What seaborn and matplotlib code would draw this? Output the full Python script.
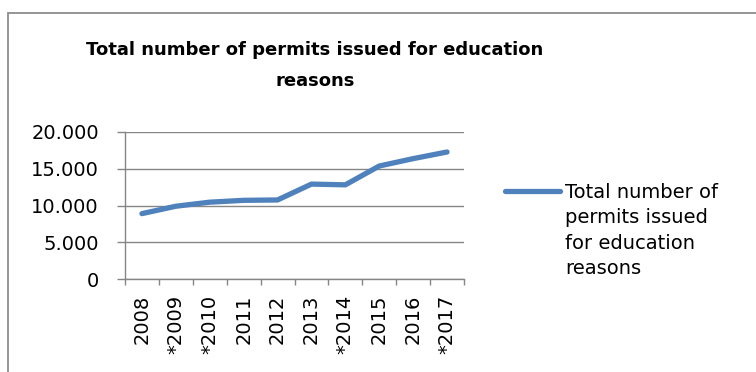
import matplotlib
matplotlib.use("Agg")
import matplotlib.pyplot as plt
from matplotlib.patches import Rectangle
from matplotlib.ticker import FuncFormatter, FixedLocator
import seaborn as sns
import pandas as pd

years = ["2008", "*2009", "*2010", "2011", "2012", "2013", "*2014", "2015", "2016", "*2017"]
permits = [8900, 9900, 10450, 10700, 10750, 12900, 12800, 15350, 16350, 17250]
legend_label = "Total number of\npermits issued\nfor education\nreasons"
title_text = "Total number of permits issued for education\nreasons"
y_ticks = [0, 5000, 10000, 15000, 20000]

sns.set_theme(style="white")
plt.rcParams["font.family"] = ["DejaVu Sans"]
plt.rcParams["text.color"] = "black"
plt.rcParams["xtick.labelcolor"] = "black"
plt.rcParams["ytick.labelcolor"] = "black"

df = pd.DataFrame({"pos": range(len(years)), "year": years, "permits": permits})

fig = plt.figure(figsize=(7.56, 3.72), dpi=100)
ax = fig.add_axes([125 / 756, 1 - 279.3 / 372, (464 - 125) / 756, (279.3 - 131.7) / 372])

sns.lineplot(data=df, x="pos", y="permits", ax=ax, color="#4F81BD",
             linewidth=3.8, label=legend_label, legend=False)

grid_c = "#868686"
ax.set_xlim(-0.5, len(years) - 0.5)
ax.set_ylim(0, 20000)
ax.set_yticks(y_ticks)
ax.yaxis.set_major_formatter(FuncFormatter(lambda v, _: f"{int(v):,}".replace(",", ".")))
ax.grid(axis="y", color=grid_c, linewidth=1.0)
ax.grid(axis="x", visible=False)

ax.set_xticks(df["pos"])
ax.set_xticklabels(years, rotation=90)
ax.xaxis.set_minor_locator(FixedLocator([i - 0.5 for i in range(len(years) + 1)]))
ax.tick_params(axis="x", which="major", length=0, pad=11, labelsize=14, labelcolor="black")
ax.tick_params(axis="x", which="minor", length=4.2, width=1.0, color=grid_c, direction="out", bottom=True)
ax.tick_params(axis="y", which="major", length=5.8, width=1.0, color=grid_c, direction="out",
               pad=13, labelsize=14, left=True, labelcolor="black")
ax.set_xlabel("")
ax.set_ylabel("")

for side in ["top", "right"]:
    ax.spines[side].set_visible(False)
for side in ["left", "bottom"]:
    ax.spines[side].set_color(grid_c)
    ax.spines[side].set_linewidth(1.0)

fig.text(315 / 756, 1 - 41 / 372, title_text, ha="center", va="top",
         fontsize=13, fontweight="bold", linespacing=1.95, color="black")

handles, labels = ax.get_legend_handles_labels()
leg = fig.legend(handles, labels, loc="upper left", bbox_to_anchor=(505 / 756, 1 - 183 / 372),
                 frameon=False, fontsize=14, handlelength=2.85, handletextpad=0.25,
                 handleheight=1.0, borderpad=0, borderaxespad=0, labelcolor="black")
leg.texts[0].set_linespacing(1.42)
for column in leg._legend_handle_box.get_children():
    for item in column.get_children():
        item.align = "top"

# chart area border
fig.patches.append(Rectangle((8 / 756, -0.1), 1.2, 1.1 - 12.5 / 372, transform=fig.transFigure,
                             fill=False, edgecolor="#8c8c8c", linewidth=1.3))

fig.savefig("out.png", dpi=100)
